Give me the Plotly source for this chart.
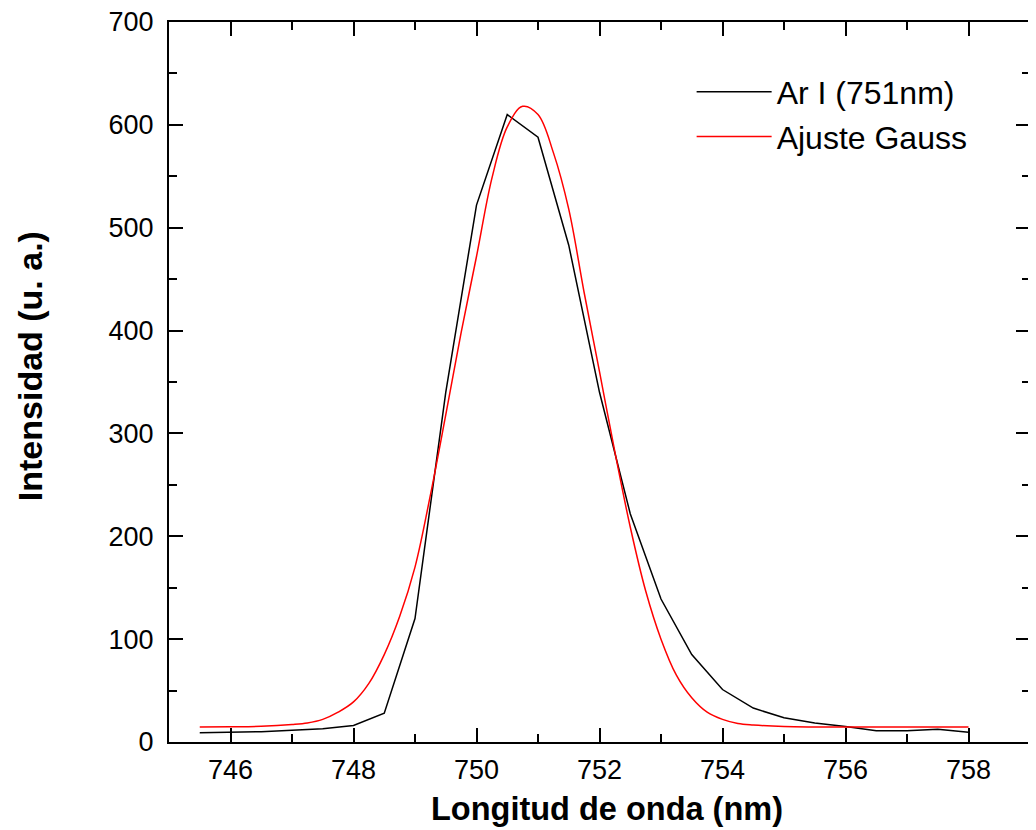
import plotly.graph_objects as go

# Measured spectrum: Ar I (751 nm)
wl_ar = [745.5, 746.0, 746.5, 747.0, 747.5, 748.0, 748.5, 749.0, 749.5, 750.0,
         750.5, 751.0, 751.5, 752.0, 752.5, 753.0, 753.5, 754.0, 754.5, 755.0,
         755.5, 756.0, 756.5, 757.0, 757.5, 758.0]
int_ar = [9, 9.5, 10, 11.5, 13, 16, 28, 120, 340, 522,
          610, 588, 483, 340, 222, 139, 85, 51, 33, 23.5,
          18.5, 15, 11, 11, 12.5, 9.5]

# Gaussian fit curve
wl_fit = [745.5, 746.0, 746.5, 747.0, 747.25, 747.5, 747.75, 748.0, 748.25, 748.5,
          748.75, 749.0, 749.25, 749.5, 749.75, 750.0, 750.25, 750.5, 750.75, 751.0,
          751.25, 751.5, 751.75, 752.0, 752.25, 752.5, 752.75, 753.0, 753.25, 753.5,
          753.75, 754.0, 754.25, 754.5, 755.0, 755.5, 756.0, 757.0, 758.0]
int_fit = [14.5, 14.8, 15.3, 17, 18.5, 22, 29, 39, 57, 85,
           122, 170, 240, 318, 398, 472, 548, 598, 618, 610,
           573, 518, 437, 360, 282, 209, 147, 100, 65, 43,
           29, 22, 18, 16.5, 15, 14.6, 14.5, 14.5, 14.5]

x_ticks = [746, 748, 750, 752, 754, 756, 758]
y_ticks = [0, 100, 200, 300, 400, 500, 600, 700]

font_family = "Liberation Sans, Arial, sans-serif"

fig = go.Figure()
fig.add_trace(go.Scatter(x=wl_ar, y=int_ar, mode="lines", name="Ar I (751nm)",
                         line=dict(color="black", width=1.5)))
fig.add_trace(go.Scatter(x=wl_fit, y=int_fit, mode="lines", name="Ajuste Gauss",
                         line=dict(color="red", width=1.5, shape="spline", smoothing=1.0)))

axis_common = dict(
    showline=True, linecolor="black", linewidth=2, mirror="ticks",
    ticks="inside", ticklen=14, tickwidth=2, tickcolor="black",
    showgrid=False, zeroline=False, ticklabeloverflow="allow", automargin=False,
    tickfont=dict(family=font_family, size=27, color="black"),
)

fig.update_xaxes(range=[745, 759], tickvals=x_ticks, ticktext=[str(v) for v in x_ticks],
                 minor=dict(ticks="inside", ticklen=8, tickwidth=2, tickcolor="black", dtick=1, tick0=745),
                 ticklabelstandoff=3,
                 **axis_common)
fig.update_yaxes(range=[0, 700], tickvals=y_ticks, ticktext=[str(v) for v in y_ticks],
                 minor=dict(ticks="inside", ticklen=8, tickwidth=2, tickcolor="black", dtick=50, tick0=0),
                 ticklabelstandoff=8,
                 **axis_common)

fig.add_annotation(text="<b>Longitud de onda (nm)</b>", xref="paper", yref="paper",
                   x=0.509, y=-0.093, xanchor="center", yanchor="middle", showarrow=False,
                   font=dict(family=font_family, size=32.5, color="black"))
fig.add_annotation(text="<b>Intensidad (u. a.)</b>", textangle=-90, xref="paper", yref="paper",
                   x=-0.1614, y=0.522, xanchor="center", yanchor="middle", showarrow=False,
                   font=dict(family=font_family, size=34, color="black"))

fig.update_layout(
    width=1036, height=830,
    margin=dict(l=161, r=14, t=14, b=96),
    paper_bgcolor="white", plot_bgcolor="white",
    showlegend=True,
    legend=dict(x=0.607, y=0.941, xanchor="left", yanchor="top", bgcolor="rgba(0,0,0,0)",
                font=dict(family=font_family, size=32, color="black"),
                tracegroupgap=0, itemwidth=75),
)

fig.write_html("out.html")
